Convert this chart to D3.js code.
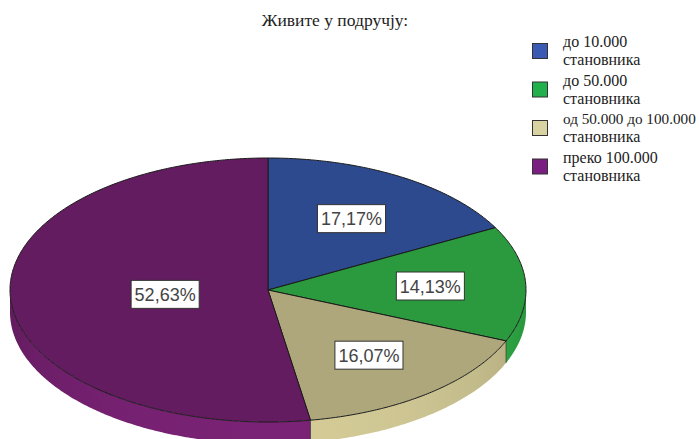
<!DOCTYPE html>
<html><head><meta charset="utf-8">
<script src="https://cdn.jsdelivr.net/npm/d3@7"></script>
<style>
html,body{margin:0;padding:0;background:#fff;}
svg{display:block;}
</style>
</head><body>
<svg id="chart" width="699" height="439"></svg>
<script>
const title = "Живите у подручју:";
const categories = ["до 10.000 становника", "до 50.000 становника", "од 50.000 до 100.000 становника", "преко 100.000 становника"];
const legendLines = [["до 10.000", "становника"], ["до 50.000", "становника"], ["од 50.000 до 100.000", "становника"], ["преко 100.000", "становника"]];
const values = [17.17, 14.13, 16.07, 52.63];
const topColors = ["#2e4a8e", "#2b9a3f", "#aea77c", "#641c60"];
const swatchColors = ["#3a5ab4", "#22b04c", "#d8d3a0", "#7a1e82"];

const svg = d3.select("#chart");
const W = 699, H = 439;
const cx = 268, cy = 290, rx = 258, ry = 132, depth = 22;

const sx = d3.scaleLinear().domain([-1, 1]).range([cx - rx, cx + rx]);
const sy = d3.scaleLinear().domain([-1, 1]).range([cy + ry, cy - ry]);
const px = a => sx(Math.sin(a));
const py = a => sy(Math.cos(a));

const pie = d3.pie().sort(null).value(d => d);
const arcs = pie(values);
const line = d3.line().x(d => d[0]).y(d => d[1]);
const defs = svg.append("defs");

function arcPts(a0, a1, dy) {
  const n = Math.max(2, Math.ceil(Math.abs(a1 - a0) / 0.01));
  return d3.range(n + 1).map(i => {
    const a = a0 + (a1 - a0) * i / n;
    return [px(a), py(a) + dy];
  });
}

// side walls
arcs.forEach((d, i) => {
  const a0 = Math.max(d.startAngle, Math.PI / 2);
  const a1 = Math.min(d.endAngle, 3 * Math.PI / 2);
  if (a1 <= a0) return;
  const g = defs.append("linearGradient").attr("id", "wall" + i)
    .attr("gradientUnits", "userSpaceOnUse")
    .attr("x1", cx - rx).attr("x2", cx + rx).attr("y1", 0).attr("y2", 0);
  d3.range(0, 1.0001, 0.05).forEach(t => {
    const s = Math.max(-1, Math.min(1, 2 * t - 1));
    const delta = -Math.asin(s);
    const k = 0.6 * Math.cos(delta) - 0.05;
    g.append("stop").attr("offset", t).attr("stop-color", d3.color(topColors[i]).brighter(k).formatHex());
  });
  const pts = arcPts(a0, a1, 0).concat(arcPts(a1, a0, depth));
  svg.append("path").attr("d", line(pts) + "Z").attr("fill", "url(#wall" + i + ")");
});
// wall boundary edges
arcs.forEach(d => {
  const a = d.endAngle;
  if (a > Math.PI / 2 && a < 3 * Math.PI / 2) {
    svg.append("line").attr("x1", px(a)).attr("y1", py(a)).attr("x2", px(a)).attr("y2", py(a) + depth)
      .attr("stroke", "#222").attr("stroke-opacity", 0.6).attr("stroke-width", 1);
  }
});

// top faces
arcs.forEach((d, i) => {
  const pts = [[cx, cy]].concat(arcPts(d.startAngle, d.endAngle, 0));
  svg.append("path").attr("d", line(pts) + "Z")
    .attr("fill", topColors[i]).attr("stroke", "#1a1a1a").attr("stroke-width", 1).attr("stroke-linejoin", "round");
});

// labels
const fmt = v => d3.format(".2f")(v).replace(".", ",") + "%";
arcs.forEach((d, i) => {
  const mid = (d.startAngle + d.endAngle) / 2;
  const frac = (d.endAngle - d.startAngle) > Math.PI ? 0.4 : 0.63;
  const lx = sx(frac * Math.sin(mid));
  const ly = sy(frac * Math.cos(mid));
  const g = svg.append("g");
  const t = g.append("text").attr("x", lx).attr("y", ly + 6.5)
    .attr("text-anchor", "middle").attr("font-family", "Liberation Sans, Arial, sans-serif")
    .attr("font-size", 18).attr("fill", "#444").text(fmt(values[i]));
  const bb = t.node().getBBox();
  g.insert("rect", "text").attr("x", lx - bb.width / 2 - 3.5).attr("y", ly - 14)
    .attr("width", bb.width + 7).attr("height", 28)
    .attr("fill", "#fff").attr("stroke", "#333").attr("stroke-width", 1);
});

// title
svg.append("text").attr("x", 335).attr("y", 26).attr("text-anchor", "middle")
  .attr("font-family", "Liberation Serif, Times New Roman, serif").attr("font-size", 17.5)
  .attr("fill", "#222").text(title);

// legend
const leg = svg.append("g");
legendLines.forEach((lines, i) => {
  const base = 47 + i * 38.5;
  leg.append("rect").attr("x", 532.5).attr("y", base - 3.5).attr("width", 15).attr("height", 15)
    .attr("fill", swatchColors[i]).attr("stroke", "#333").attr("stroke-width", 1);
  lines.forEach((l, j) => {
    const t = leg.append("text").attr("x", 563).attr("y", base + j * 18)
      .attr("font-family", "Liberation Serif, Times New Roman, serif").attr("font-size", 16)
      .attr("fill", "#222").text(l);
    const w = t.node().getComputedTextLength();
    if (563 + w > W - 10) t.attr("font-size", 15.2);
  });
});
</script>
</body></html>
